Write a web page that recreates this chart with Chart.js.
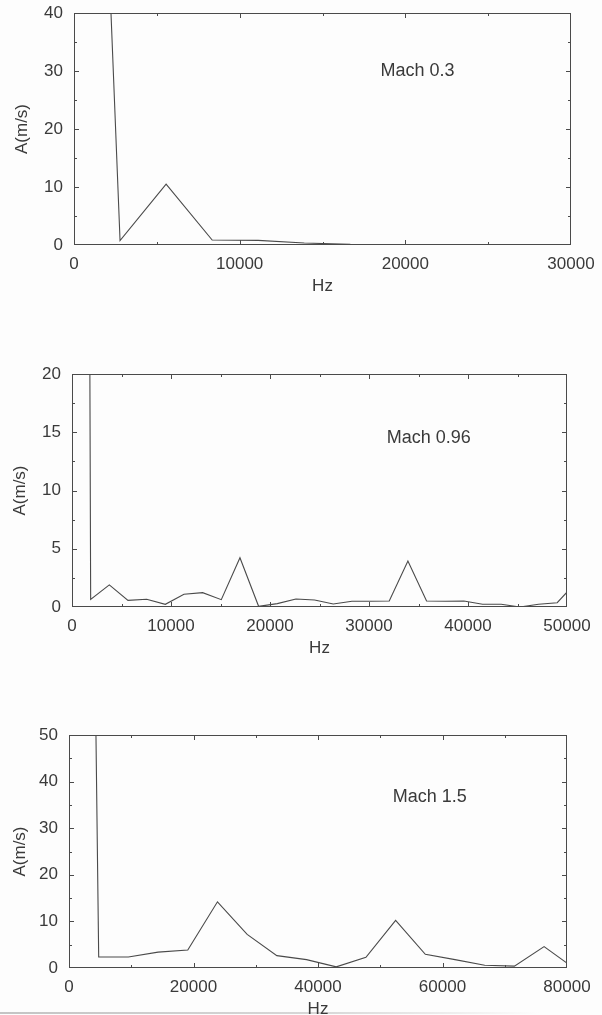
<!DOCTYPE html>
<html>
<head>
<meta charset="utf-8">
<script src="https://cdn.jsdelivr.net/npm/chart.js@4.4.1/dist/chart.umd.min.js"></script>
<style>
  html, body { margin: 0; padding: 0; background: #fdfdfd; }
  #page { position: relative; width: 602px; height: 1015px; overflow: hidden; background: #fdfdfd; }
  .panel { position: absolute; left: 0; width: 602px; }
  #edge { position: absolute; left: 0; top: 1012px; width: 540px; height: 2px;
          background: linear-gradient(to right, #c4c4c4, #d8d8d8 60%, rgba(250,250,250,0)); }
</style>
</head>
<body>
<div id="page">
  <div id="edge"></div>
  <div class="panel" style="top:0px;height:297px"><canvas id="p1"></canvas></div>
  <div class="panel" style="top:361px;height:298px"><canvas id="p2"></canvas></div>
  <div class="panel" style="top:722px;height:298px"><canvas id="p3"></canvas></div>
</div>
<script>
// Velocity spectra, amplitude A (m/s) versus frequency (Hz)
const mach03Hz  = [0, 2780, 5560, 8340, 11120, 13900, 16680, 19460, 22240, 25020, 27800, 30580];
const mach03Amp = [200, 0.75, 10.5, 0.85, 0.8, 0.35, 0.1, 0.08, 0.05, 0.02, 0.0, 0.0];

const mach096Hz  = [0, 1885, 3770, 5655, 7540, 9425, 11310, 13195, 15080, 16965, 18850, 20735, 22620, 24505,
                    26390, 28275, 30160, 32045, 33930, 35815, 37700, 39585, 41470, 43355, 45240, 47125, 49010, 50895];
const mach096Amp = [460, 0.66, 1.9, 0.57, 0.66, 0.23, 1.09, 1.23, 0.63, 4.23, 0.06, 0.29, 0.69, 0.6,
                    0.26, 0.49, 0.49, 0.51, 3.94, 0.51, 0.49, 0.51, 0.23, 0.23, 0.0, 0.23, 0.37, 2.1];

const mach15Hz  = [0, 4770, 9540, 14310, 19080, 23850, 28620, 33390, 38160, 42930, 47700, 52470, 57240,
                   62010, 66780, 71550, 76320, 81090];
const mach15Amp = [520, 2.35, 2.35, 3.4, 3.85, 14.2, 7.2, 2.65, 1.8, 0.25, 2.3, 10.2, 2.95,
                   1.8, 0.6, 0.4, 4.6, 0.0];

// Axis ranges and tick spacing (labelled / unlabelled)
const xRange1 = [0, 30000], xStep1 = [10000, 5000], yRange1 = [0, 40], yStep1 = [10, 5];
const xRange2 = [0, 50000], xStep2 = [10000, 5000], yRange2 = [0, 20], yStep2 = [5, 2.5];
const xRange3 = [0, 80000], xStep3 = [20000, 10000], yRange3 = [0, 50], yStep3 = [10, 5];

const caseLabels = ['Mach 0.3', 'Mach 0.96', 'Mach 1.5'];
const xTitle = 'Hz';
const yTitle = 'A(m/s)';

const INK = '#3a3a3a';
const LINE = '#4a4a4a';
const FONT = "'Liberation Sans', Arial, Helvetica, sans-serif";

// Closed frame with inward ticks on all four sides, plus the case label
const framePlugin = {
  id: 'frameTicks',
  afterDatasetsDraw(chart, args, opts) {
    const { ctx, chartArea: a, scales: { x, y } } = chart;
    ctx.save();
    ctx.strokeStyle = LINE;
    ctx.lineWidth = 1;
    ctx.strokeRect(a.left + 0.5, a.top + 0.5, a.right - a.left - 1, a.bottom - a.top - 1);
    ctx.beginPath();
    const eps = 1e-6;
    for (let v = x.min + opts.xMinor; v < x.max - eps; v += opts.xMinor) {
      const major = Math.abs(v / opts.xMajor - Math.round(v / opts.xMajor)) < eps;
      const len = major ? 5 : 3;
      const px = Math.round(x.getPixelForValue(v)) + 0.5;
      ctx.moveTo(px, a.bottom); ctx.lineTo(px, a.bottom - len);
      ctx.moveTo(px, a.top); ctx.lineTo(px, a.top + len);
    }
    for (let v = y.min + opts.yMinor; v < y.max - eps; v += opts.yMinor) {
      const major = Math.abs(v / opts.yMajor - Math.round(v / opts.yMajor)) < eps;
      const len = major ? 5 : 3;
      const py = Math.round(y.getPixelForValue(v)) + 0.5;
      ctx.moveTo(a.left, py); ctx.lineTo(a.left + len, py);
      ctx.moveTo(a.right, py); ctx.lineTo(a.right - len, py);
    }
    ctx.stroke();
    ctx.fillStyle = INK;
    ctx.font = '18px ' + FONT;
    ctx.textAlign = 'left';
    ctx.textBaseline = 'middle';
    ctx.fillText(opts.label, x.getPixelForValue(opts.labelAt[0]), y.getPixelForValue(opts.labelAt[1]));
    ctx.restore();
  }
};

function makePanel(id, hz, amp, xRange, xStep, yRange, yStep, label, labelAt, padRight, yWidth, yTitlePad) {
  const points = hz.map((f, i) => ({ x: f, y: amp[i] }));
  new Chart(document.getElementById(id), {
    type: 'line',
    data: {
      datasets: [{
        data: points,
        borderColor: LINE,
        borderWidth: 1.1,
        pointRadius: 0,
        tension: 0,
        fill: false
      }]
    },
    options: {
      responsive: true,
      maintainAspectRatio: false,
      animation: false,
      events: [],
      layout: { padding: { top: 13, right: padRight, left: 0, bottom: 0 } },
      plugins: {
        legend: { display: false },
        tooltip: { enabled: false },
        frameTicks: {
          xMajor: xStep[0], xMinor: xStep[1], yMajor: yStep[0], yMinor: yStep[1],
          label: label, labelAt: labelAt
        }
      },
      scales: {
        x: {
          type: 'linear',
          min: xRange[0], max: xRange[1],
          grid: { display: false, drawTicks: false },
          border: { display: false },
          ticks: {
            stepSize: xStep[0], padding: 9, color: INK, maxRotation: 0,
            font: { family: FONT, size: 17 },
            callback: v => String(v)
          },
          title: {
            display: true, text: xTitle, color: INK,
            font: { family: FONT, size: 17 },
            padding: { top: 0, bottom: 0 }
          },
          afterFit: s => { s.height = 52; s.paddingLeft = 0; s.paddingRight = 0; }
        },
        y: {
          type: 'linear',
          min: yRange[0], max: yRange[1],
          grid: { display: false, drawTicks: false },
          border: { display: false },
          ticks: {
            stepSize: yStep[0], padding: 11, color: INK,
            font: { family: FONT, size: 17 },
            callback: v => String(v)
          },
          title: {
            display: true, text: yTitle, color: INK,
            font: { family: FONT, size: 17 },
            padding: { top: yTitlePad, bottom: 0 }
          },
          afterFit: s => { s.width = yWidth; s.paddingTop = 0; s.paddingBottom = 0; }
        }
      }
    },
    plugins: [framePlugin]
  });
}

makePanel('p1', mach03Hz, mach03Amp, xRange1, xStep1, yRange1, yStep1, caseLabels[0], [18500, 30], 31, 74, 12);
makePanel('p2', mach096Hz, mach096Amp, xRange2, xStep2, yRange2, yStep2, caseLabels[1], [31800, 14.5], 35, 72, 10);
makePanel('p3', mach15Hz, mach15Amp, xRange3, xStep3, yRange3, yStep3, caseLabels[2], [52000, 36.6], 35, 69, 10);
</script>
</body>
</html>
